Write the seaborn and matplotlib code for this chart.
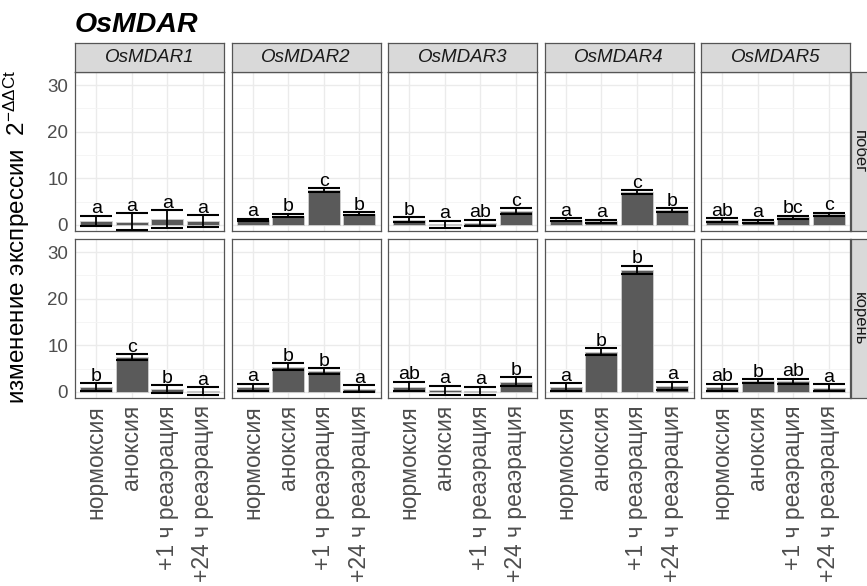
import numpy as np
import pandas as pd
import matplotlib
matplotlib.use("Agg")
import matplotlib.pyplot as plt
import seaborn as sns

# ---- data -------------------------------------------------------------
conditions = ["нормоксия", "аноксия", "+1 ч реаэрация", "+24 ч реаэрация"]
genes = ["OsMDAR1", "OsMDAR2", "OsMDAR3", "OsMDAR4", "OsMDAR5"]
tissues = ["побег", "корень"]

# mean relative expression (2^-ddCt), rows = genes, cols = conditions
shoot_mean = [
    [0.9, 0.7, 1.2, 0.85],
    [1.1, 2.0, 7.5, 2.4],
    [1.1, 0.15, 0.45, 3.0],
    [1.1, 0.8, 7.0, 3.2],
    [1.05, 0.8, 1.65, 2.3],
]
shoot_err = [
    [1.1, 1.8, 1.9, 1.2],
    [0.25, 0.35, 0.4, 0.3],
    [0.55, 0.8, 0.65, 0.55],
    [0.3, 0.3, 0.4, 0.35],
    [0.35, 0.3, 0.35, 0.3],
]
shoot_letters = [
    ["a", "a", "a", "a"],
    ["a", "b", "c", "b"],
    ["b", "a", "ab", "c"],
    ["a", "a", "c", "b"],
    ["ab", "a", "bc", "c"],
]

root_mean = [
    [1.0, 7.5, 0.65, 0.2],
    [1.0, 5.4, 4.4, 0.7],
    [1.15, 0.4, 0.25, 2.2],
    [1.0, 8.65, 26.2, 1.3],
    [1.0, 2.3, 2.25, 0.95],
]
root_err = [
    [0.85, 0.6, 0.8, 0.8],
    [0.7, 0.7, 0.65, 0.7],
    [1.0, 0.95, 0.9, 0.9],
    [0.85, 0.75, 0.8, 0.9],
    [0.7, 0.45, 0.55, 0.65],
]
root_letters = [
    ["b", "c", "b", "a"],
    ["a", "b", "b", "a"],
    ["ab", "a", "a", "b"],
    ["a", "b", "b", "a"],
    ["ab", "b", "ab", "a"],
]

y_ticks = [0, 10, 20, 30]
title = "OsMDAR"
y_label = r"изменение экспрессии  $2^{-\Delta\Delta Ct}$"

# ---- style ------------------------------------------------------------
sns.set_style("white")
plt.rcParams["font.family"] = ["Liberation Sans", "DejaVu Sans"]
plt.rcParams["mathtext.fontset"] = "custom"
plt.rcParams["mathtext.rm"] = "Liberation Sans"
plt.rcParams["mathtext.it"] = "Liberation Sans:italic"
plt.rcParams["mathtext.default"] = "regular"

W, H = 867, 586
fig = plt.figure(figsize=(W / 100, H / 100), dpi=100)


def rect(left, top, w, h):
    return [left / W, 1 - (top + h) / H, w / W, h / H]


BAR = "#5a5a5a"
GRID = "#ebebeb"
FRAME = "#555555"
TICKTXT = "#4d4d4d"
STRIP_BG = "#d9d9d9"

panel_left0 = 75
panel_step = 156.5
panel_w = 149
row_tops = [72, 239]
panel_h = 159
ylim = (-1.3, 32.8)

blocks = [
    (shoot_mean, shoot_err, shoot_letters),
    (root_mean, root_err, root_letters),
]

for r, (means, errs, letters) in enumerate(blocks):
    for g, gene in enumerate(genes):
        left = panel_left0 + g * panel_step
        ax = fig.add_axes(rect(left, row_tops[r], panel_w, panel_h))
        df = pd.DataFrame({"cond": conditions, "val": means[g]})
        sns.barplot(data=df, x="cond", y="val", order=conditions, ax=ax,
                    color=BAR, saturation=1, width=0.9, errorbar=None,
                    edgecolor="#cfcfcf", linewidth=0.6, zorder=2)
        xs = np.arange(len(conditions))
        m = np.array(means[g])
        e = np.array(errs[g])
        ax.vlines(xs, m - e, m + e, color="black", lw=1.3, zorder=3)
        ax.hlines(m + e, xs - 0.45, xs + 0.45, color="black", lw=1.5, zorder=3)
        ax.hlines(m - e, xs - 0.45, xs + 0.45, color="black", lw=1.5, zorder=3)
        for x, top, lab in zip(xs, m + e, letters[g]):
            ax.text(x, top + 0.55, lab, ha="center", va="baseline",
                    fontsize=14, color="black", zorder=4)

        ax.set_xlim(-0.6, len(conditions) - 0.4)
        ax.set_ylim(*ylim)
        ax.set_yticks(y_ticks)
        ax.set_yticks([5, 15, 25], minor=True)
        ax.grid(True, which="major", color=GRID, lw=1.0, zorder=0)
        ax.grid(True, which="minor", axis="y", color="#f4f4f4", lw=0.6, zorder=0)
        ax.set_axisbelow(True)
        ax.set_xlabel("")
        ax.set_ylabel("")
        for sp in ax.spines.values():
            sp.set_color(FRAME)
            sp.set_linewidth(0.9)
        ax.tick_params(axis="both", which="major", length=3, width=0.8,
                       color="#333333", labelcolor=TICKTXT)
        ax.tick_params(axis="y", which="minor", length=0)
        if g == 0:
            ax.set_yticklabels([str(t) for t in y_ticks], fontsize=13.5)
            ax.tick_params(axis="y", pad=2)
        else:
            ax.tick_params(axis="y", which="major", length=0, labelleft=False)
        if r == 1:
            ax.set_xticks(xs)
            ax.set_xticklabels(conditions, rotation=90, fontsize=16.5,
                               ha="center", va="top")
            ax.tick_params(axis="x", pad=2)
        else:
            ax.set_xticks(xs)
            ax.tick_params(axis="x", length=0, labelbottom=False)

        # column strip
        if r == 0:
            sax = fig.add_axes(rect(left, 43, panel_w, 29))
            sax.set_facecolor(STRIP_BG)
            sax.set_xticks([])
            sax.set_yticks([])
            for sp in sax.spines.values():
                sp.set_color(FRAME)
                sp.set_linewidth(0.9)
            sax.text(0.5, 0.5, gene, ha="center", va="center", style="italic",
                     fontsize=13.5, color="#1a1a1a", transform=sax.transAxes)

    # row strip on the right
    rax = fig.add_axes(rect(851, row_tops[r], 24, panel_h))
    rax.set_facecolor(STRIP_BG)
    rax.set_xticks([])
    rax.set_yticks([])
    for sp in rax.spines.values():
        sp.set_color(FRAME)
        sp.set_linewidth(0.9)
    rax.text(859 / W, 1 - (row_tops[r] + panel_h / 2) / H, tissues[r],
             ha="center", va="center", rotation=270, fontsize=12,
             color="#1a1a1a", transform=fig.transFigure)

fig.text(75 / W, 1 - 32 / H, title, fontsize=20.5, fontweight="bold",
         style="italic", ha="left", va="baseline", color="black")
fig.text(17 / W, 1 - 237 / H, y_label, rotation=90, fontsize=17.5,
         ha="center", va="center", color="black")

fig.savefig("out.png", dpi=100)
